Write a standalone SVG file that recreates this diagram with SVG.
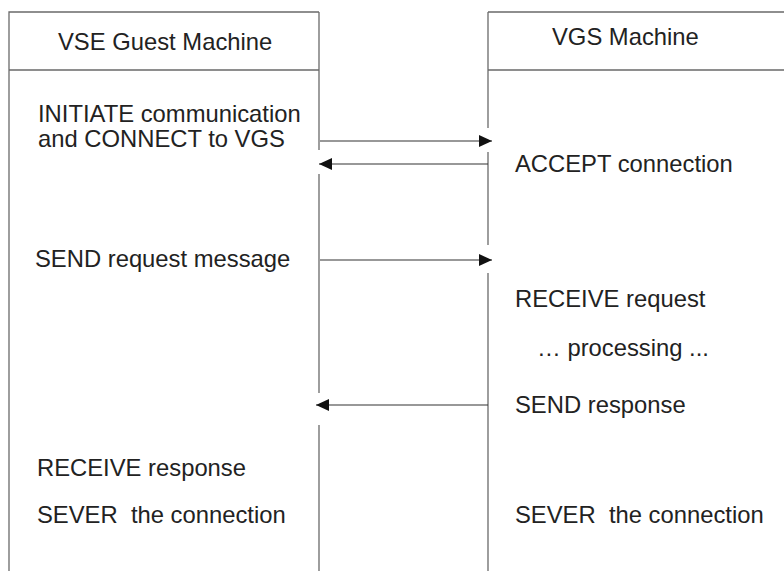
<svg xmlns="http://www.w3.org/2000/svg" width="784" height="571" viewBox="0 0 784 571">
<defs>
<style>
.frame{stroke:#6a6a6a;stroke-width:1.3;fill:none}
.msg{stroke:#333;stroke-width:1.2;fill:none}
.t{font-family:"Liberation Sans",Arial,sans-serif;font-size:23.8px;fill:#222;white-space:pre}
</style>
<marker id="ah" markerWidth="13" markerHeight="12" refX="13" refY="6" orient="auto" markerUnits="userSpaceOnUse">
<path d="M0,0 L13,6 L0,12 Z" fill="#111"/>
</marker>
</defs>
<rect width="784" height="571" fill="#fff"/>
<g id="vse-guest">
<path class="frame" d="M9,571 V12 H319 M9,70 H319 M319,12 V150 M319,174 V393 M319,425 V571"/>
<text class="t" x="58" y="50">VSE Guest Machine</text>
<text class="t" x="38" y="122">INITIATE communication</text>
<text class="t" x="38" y="147">and CONNECT to VGS</text>
<text class="t" x="35" y="267">SEND request message</text>
<text class="t" x="37" y="476">RECEIVE response</text>
<text class="t" x="37" y="523" xml:space="preserve">SEVER  the connection</text>
</g>
<g id="vgs">
<path class="frame" d="M488,12 H784 M488,70 H784 M488,12 V128 M488,152 V245 M488,273 V571"/>
<text class="t" x="552" y="45">VGS Machine</text>
<text class="t" x="515" y="172">ACCEPT connection</text>
<text class="t" x="515" y="307">RECEIVE request</text>
<text class="t" x="537" y="356">… processing ...</text>
<text class="t" x="515" y="413">SEND response</text>
<text class="t" x="515" y="523" xml:space="preserve">SEVER  the connection</text>
</g>
<g id="connectors">
<line class="msg" x1="320" y1="141" x2="492" y2="141" marker-end="url(#ah)"/>
<line class="msg" x1="488" y1="164" x2="319" y2="164" marker-end="url(#ah)"/>
<line class="msg" x1="320" y1="260" x2="492" y2="260" marker-end="url(#ah)"/>
<line class="msg" x1="488" y1="405" x2="316" y2="405" marker-end="url(#ah)"/>
</g>
</svg>
